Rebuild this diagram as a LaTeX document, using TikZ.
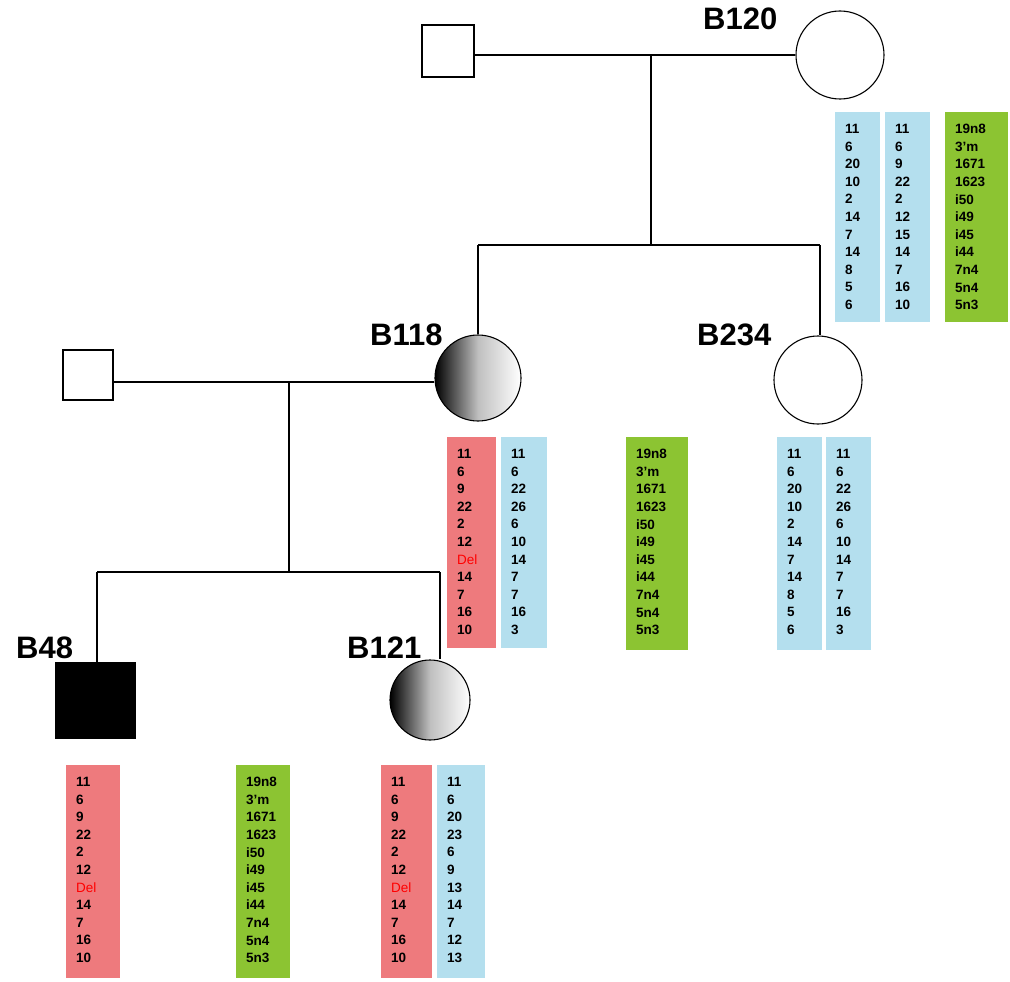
\documentclass[tikz,border=0pt]{standalone}
\usepackage{fontspec}
\setmainfont{Liberation Sans}
\definecolor{lblue}{RGB}{180,223,238}
\definecolor{lred}{RGB}{238,122,125}
\definecolor{lgreen}{RGB}{140,196,50}
\begin{document}
\begin{tikzpicture}[x=1pt,y=-1pt,
  every node/.style={inner sep=0},
  ln/.style={line width=1.3pt},
  sq/.style={draw,line width=1.1pt,fill=white},
  circ/.style={draw,line width=1.1pt,fill=white},
  shd/.style={draw,line width=1.1pt,left color=black,right color=white,middle color=gray!50},
  lab/.style={font=\bfseries\fontsize{31}{31}\selectfont,anchor=base west},
  box/.style={anchor=north west,align=left,font=\bfseries\fontsize{13.5}{17.6}\selectfont,text depth=0pt}]
\useasboundingbox (0,0) rectangle (1010,982);
\newcommand\mybox[7]{%
  \fill[#6] (#2,#3) rectangle (#4,#5);
  \node[box] (#1) at (#2+10,#3+12) {#7};}
% top generation
\node[sq,minimum size=52pt] (f1) at (448,51) {};
\node[circ,circle,minimum size=88pt] (B120) at (840,55) {};
\node[lab] (l120) at (703,30) {B120};
\coordinate (m1) at (651,55);
\coordinate (s1) at (651,245);
\coordinate (s1l) at (478,245);
\coordinate (s1r) at (820,245);
\draw[ln] (f1.east|-m1) -- (B120.west);
\draw[ln] (m1) -- (s1);
\draw[ln] (s1l) -- (s1r);
% second generation
\node[shd,circle,minimum size=86pt] (B118) at (478,378) {};
\node[circ,circle,minimum size=88pt] (B234) at (818,380) {};
\node[lab] (l118) at (370,345) {B118};
\node[lab] (l234) at (697,345) {B234};
\draw[ln] (s1l) -- (B118.north);
\draw[ln] (s1r) -- (s1r|-B234.north);
\node[sq,minimum size=50pt] (f2) at (88,375) {};
\coordinate (m2) at (289,382);
\coordinate (s2) at (289,572);
\coordinate (s2l) at (97,572);
\coordinate (s2r) at (440,572);
\draw[ln] (f2.east|-m2) -- (B118.west|-m2);
\draw[ln] (m2) -- (s2);
\draw[ln] (s2l) -- (s2r);
% third generation
\node[draw,fill=black,minimum width=80pt,minimum height=76pt] (B48) at (95,700) {};
\node[shd,circle,minimum size=80pt] (B121) at (430,700) {};
\node[lab] (l48) at (16,658) {B48};
\node[lab] (l121) at (347,658) {B121};
\draw[ln] (s2l) -- (s2l|-B48.north);
\draw[ln] (s2r) -- (s2r|-B121.north);
% boxes
\mybox{t1}{835}{112}{880}{322}{lblue}{11\\6\\20\\10\\2\\14\\7\\14\\8\\5\\6}
\mybox{t2}{885}{112}{930}{322}{lblue}{11\\6\\9\\22\\2\\12\\15\\14\\7\\16\\10}
\mybox{t3}{945}{112}{1008}{322}{lgreen}{19n8\\3'm\\1671\\1623\\i50\\i49\\i45\\i44\\7n4\\5n4\\5n3}
\mybox{m1b}{447}{437}{496}{648}{lred}{11\\6\\9\\22\\2\\12\\\textcolor{red}{\mdseries Del}\\14\\7\\16\\10}
\mybox{m2b}{501}{437}{547}{648}{lblue}{11\\6\\22\\26\\6\\10\\14\\7\\7\\16\\3}
\mybox{m3b}{626}{437}{688}{650}{lgreen}{19n8\\3'm\\1671\\1623\\i50\\i49\\i45\\i44\\7n4\\5n4\\5n3}
\mybox{m4b}{777}{437}{822}{650}{lblue}{11\\6\\20\\10\\2\\14\\7\\14\\8\\5\\6}
\mybox{m5b}{826}{437}{871}{650}{lblue}{11\\6\\22\\26\\6\\10\\14\\7\\7\\16\\3}
\mybox{b1}{66}{765}{120}{978}{lred}{11\\6\\9\\22\\2\\12\\\textcolor{red}{\mdseries Del}\\14\\7\\16\\10}
\mybox{b2}{236}{765}{290}{978}{lgreen}{19n8\\3'm\\1671\\1623\\i50\\i49\\i45\\i44\\7n4\\5n4\\5n3}
\mybox{b3}{381}{765}{432}{978}{lred}{11\\6\\9\\22\\2\\12\\\textcolor{red}{\mdseries Del}\\14\\7\\16\\10}
\mybox{b4}{437}{765}{485}{978}{lblue}{11\\6\\20\\23\\6\\9\\13\\14\\7\\12\\13}
\end{tikzpicture}
\end{document}
